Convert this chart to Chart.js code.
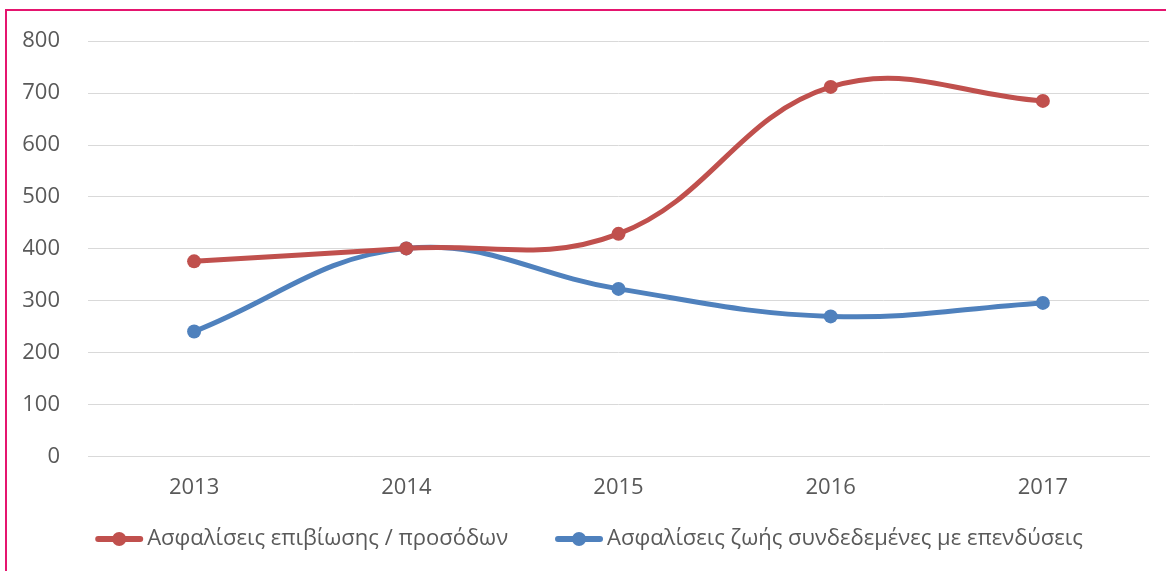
<!DOCTYPE html>
<html>
<head>
<meta charset="utf-8">
<script src="https://cdn.jsdelivr.net/npm/chart.js@4.4.0/dist/chart.umd.min.js"></script>
<style>
  html, body { margin: 0; padding: 0; background: #fff; overflow: hidden; }
  #frame { position: absolute; left: 5px; top: 9px; width: 1400px; height: 800px; border: 2px solid #e5156f; }
  #wrap { position: absolute; left: 0; top: 0; width: 1166px; height: 571px; }
</style>
</head>
<body>
<div id="frame"></div>
<div id="wrap"><canvas id="chart"></canvas></div>
<script>
  // values
  var years = ['2013', '2014', '2015', '2016', '2017'];
  var survivalAnnuities = [376, 401, 429, 712, 685];
  var unitLinked = [241, 401, 323, 270, 296];
  var seriesNames = ['Ασφαλίσεις επιβίωσης / προσόδων', 'Ασφαλίσεις ζωής συνδεδεμένες με επενδύσεις'];

  var RED = '#c0504d';
  var BLUE = '#4f81bd';
  var TEXT = '#595959';
  var FONT = { family: '"Open Sans", "Noto Sans", sans-serif', size: 22 };

  // bottom legend drawn by hand: thick line with a dot, then the series name
  var lineLegend = {
    id: 'lineLegend',
    afterDraw: function (chart) {
      var ctx = chart.ctx;
      var y = chart.height - 32;
      var markW = 48, markGap = 4, itemGap = 47;
      ctx.save();
      ctx.font = FONT.size + 'px ' + FONT.family;
      var widths = chart.data.datasets.map(function (ds) {
        return markW + markGap + ctx.measureText(ds.label).width;
      });
      var total = widths.reduce(function (a, b) { return a + b; }, 0) + itemGap * (widths.length - 1);
      var x = chart.width / 2 + 6 - total / 2;
      chart.data.datasets.forEach(function (ds, i) {
        ctx.strokeStyle = ds.borderColor;
        ctx.fillStyle = ds.borderColor;
        ctx.lineWidth = 6;
        ctx.lineCap = 'round';
        ctx.beginPath();
        ctx.moveTo(x + 3, y);
        ctx.lineTo(x + markW - 3, y);
        ctx.stroke();
        ctx.beginPath();
        ctx.arc(x + markW / 2, y, 7, 0, Math.PI * 2);
        ctx.fill();
        ctx.fillStyle = TEXT;
        ctx.textBaseline = 'middle';
        ctx.textAlign = 'left';
        ctx.fillText(ds.label, x + markW + markGap, y);
        x += widths[i] + itemGap;
      });
      ctx.restore();
    }
  };

  new Chart(document.getElementById('chart').getContext('2d'), {
    type: 'line',
    data: {
      labels: years,
      datasets: [{
        label: seriesNames[0],
        data: survivalAnnuities,
        borderColor: RED,
        backgroundColor: RED,
        borderWidth: 5,
        tension: 0.4,
        pointRadius: 7,
        pointBorderWidth: 0
      }, {
        label: seriesNames[1],
        data: unitLinked,
        borderColor: BLUE,
        backgroundColor: BLUE,
        borderWidth: 5,
        tension: 0.4,
        pointRadius: 7,
        pointBorderWidth: 0
      }]
    },
    options: {
      responsive: true,
      maintainAspectRatio: false,
      animation: false,
      layout: { padding: { left: 23, right: 17, top: 30, bottom: 52 } },
      plugins: {
        tooltip: { enabled: false },
        legend: { display: false }
      },
      scales: {
        x: {
          offset: true,
          grid: { display: false, drawTicks: false },
          border: { display: true, color: '#d9d9d9', width: 1 },
          ticks: { font: FONT, color: TEXT, padding: 18 }
        },
        y: {
          min: 0,
          max: 800,
          afterFit: function (scale) { scale.width = 65; },
          ticks: { stepSize: 100, font: FONT, color: TEXT, padding: 28 },
          grid: { color: '#d9d9d9', lineWidth: 1, drawTicks: false },
          border: { display: false }
        }
      }
    },
    plugins: [lineLegend]
  });
</script>
</body>
</html>
